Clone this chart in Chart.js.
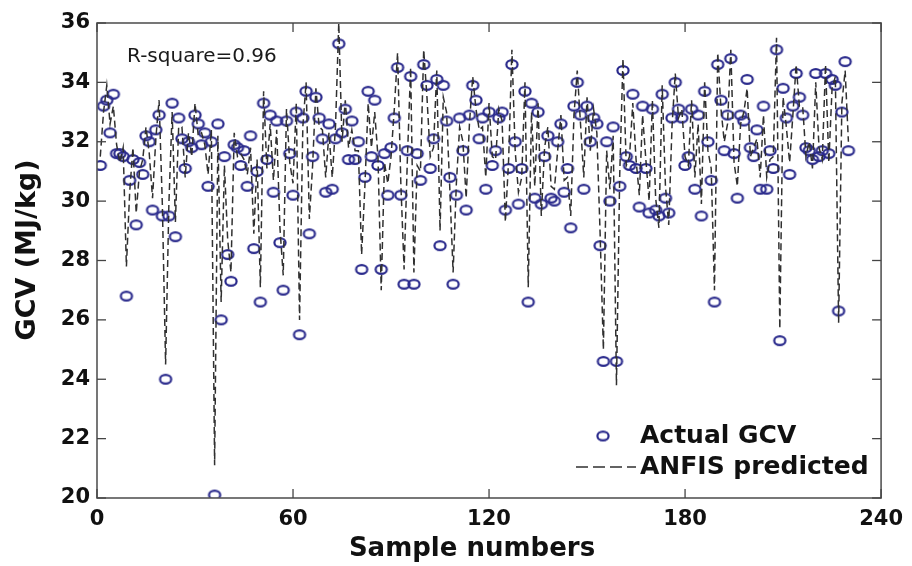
<!DOCTYPE html>
<html><head><meta charset="utf-8">
<script src="https://cdn.jsdelivr.net/npm/chart.js@4.4.1/dist/chart.umd.min.js"></script>
<style>html,body{margin:0;padding:0;background:#fff;}#wrap{width:912px;height:566px;}</style>
</head><body><div id="wrap"><canvas id="c" width="912" height="566"></canvas></div>
<script>
const actualGCV = [
31.2,33.2,33.4,32.3,33.6,31.6,31.6,31.5,26.8,30.7,
31.4,29.2,31.3,30.9,32.2,32.0,29.7,32.4,32.9,29.5,
24.0,29.5,33.3,28.8,32.8,32.1,31.1,32.0,31.8,32.9,
32.6,31.9,32.3,30.5,32.0,20.1,32.6,26.0,31.5,28.2,
27.3,31.9,31.8,31.2,31.7,30.5,32.2,28.4,31.0,26.6,
33.3,31.4,32.9,30.3,32.7,28.6,27.0,32.7,31.6,30.2,
33.0,25.5,32.8,33.7,28.9,31.5,33.5,32.8,32.1,30.3,
32.6,30.4,32.1,35.3,32.3,33.1,31.4,32.7,31.4,32.0,
27.7,30.8,33.7,31.5,33.4,31.2,27.7,31.6,30.2,31.8,
32.8,34.5,30.2,27.2,31.7,34.2,27.2,31.6,30.7,34.6,
33.9,31.1,32.1,34.1,28.5,33.9,32.7,30.8,27.2,30.2,
32.8,31.7,29.7,32.9,33.9,33.4,32.1,32.8,30.4,33.0,
31.2,31.7,32.8,33.0,29.7,31.1,34.6,32.0,29.9,31.1,
33.7,26.6,33.3,30.1,33.0,29.9,31.5,32.2,30.1,30.0,
32.0,32.6,30.3,31.1,29.1,33.2,34.0,32.9,30.4,33.2,
32.0,32.8,32.6,28.5,24.6,32.0,30.0,32.5,24.6,30.5,
34.4,31.5,31.2,33.6,31.1,29.8,33.2,31.1,29.6,33.1,
29.7,29.5,33.6,30.1,29.6,32.8,34.0,33.1,32.8,31.2,
31.5,33.1,30.4,32.9,29.5,33.7,32.0,30.7,26.6,34.6,
33.4,31.7,32.9,34.8,31.6,30.1,32.9,32.7,34.1,31.8,
31.5,32.4,30.4,33.2,30.4,31.7,31.1,35.1,25.3,33.8,
32.8,30.9,33.2,34.3,33.5,32.9,31.8,31.7,31.4,34.3,
31.5,31.7,34.3,31.6,34.1,33.9,26.3,33.0,34.7,31.7
];
const anfisPredicted = [
31.5,33.0,33.9,32.6,33.2,31.9,31.3,31.8,27.8,30.3,
31.8,29.6,31.0,31.4,32.5,31.6,30.1,32.1,33.4,29.9,
24.5,29.9,33.0,29.3,32.5,32.5,30.8,32.3,31.5,33.3,
32.2,32.3,31.9,30.9,32.4,21.1,32.2,26.6,31.2,28.7,
27.6,32.3,31.5,31.6,31.4,30.9,31.8,28.9,31.4,27.1,
33.7,31.1,32.6,30.7,32.4,29.1,27.5,33.1,31.3,30.6,
33.3,26.0,32.5,34.0,29.4,31.2,33.8,32.5,32.4,30.8,
32.3,30.8,32.5,36.0,32.0,33.4,31.8,32.4,31.7,31.7,
28.2,30.5,33.3,31.8,33.0,31.5,27.0,31.3,30.6,31.5,
33.1,35.0,30.6,27.7,31.4,34.5,27.6,31.2,31.0,35.1,
33.5,31.5,31.8,34.4,29.0,33.5,33.0,30.4,27.6,30.6,
32.5,32.0,30.1,32.6,34.2,33.1,32.4,32.5,30.8,33.3,
31.5,31.4,33.1,32.7,29.3,31.4,35.1,31.7,30.3,30.8,
34.0,27.1,33.0,30.5,33.3,29.5,31.8,32.5,30.5,30.4,
31.7,32.9,30.7,30.8,29.5,32.9,34.4,32.6,30.8,33.5,
31.7,33.1,32.3,28.9,25.0,31.7,30.4,32.2,23.8,30.9,
34.8,31.2,31.5,33.3,31.4,30.2,32.9,31.4,30.0,33.4,
30.1,29.1,33.9,30.5,29.2,32.5,34.3,32.8,33.1,31.5,
31.2,33.4,30.8,32.6,29.9,34.0,31.7,31.1,27.0,35.0,
33.1,32.0,32.6,35.1,31.3,30.5,32.6,33.0,33.8,31.5,
31.8,32.1,30.8,32.9,30.8,31.4,31.5,35.5,25.7,33.5,
32.5,31.3,32.9,34.6,33.2,33.2,31.5,32.0,31.1,34.0,
31.8,31.4,34.6,31.3,33.8,34.2,25.9,33.3,34.4,32.0
];
const sampleNumbers = actualGCV.map((_, i) => i + 1);
const xTicks = [0, 60, 120, 180, 240];
const yTicks = [20, 22, 24, 26, 28, 30, 32, 34, 36];
const seriesNames = ['Actual GCV', 'ANFIS predicted'];
const xTitle = 'Sample numbers';
const yTitle = 'GCV (MJ/kg)';
const rSquareText = 'R-square=0.96';

const CIRCLE = '#2a2a8c';
const LINE = '#303030';

// elliptical marker (the reference circles are slightly wider than tall)
const marker = document.createElement('canvas');
marker.width = 16; marker.height = 13;
(() => {
  const m = marker.getContext('2d');
  m.strokeStyle = CIRCLE; m.lineWidth = 2.2;
  m.beginPath(); m.ellipse(8, 6.5, 5.6, 4.4, 0, 0, Math.PI * 2); m.stroke();
})();

const overlay = {
  id: 'overlay',
  beforeDraw(chart) {
    const c = chart.ctx;
    c.save(); c.fillStyle = '#fff'; c.fillRect(0, 0, chart.width, chart.height); c.restore();
  },
  afterDraw(chart) {
    const c = chart.ctx, a = chart.chartArea, x = chart.scales.x, y = chart.scales.y;
    c.save();
    const seg = (x1, y1, x2, y2) => { c.beginPath(); c.moveTo(x1, y1); c.lineTo(x2, y2); c.stroke(); };
    c.strokeStyle = '#555'; c.lineWidth = 1.6;
    c.strokeRect(a.left, a.top, a.right - a.left, a.bottom - a.top);
    c.lineWidth = 1.3; c.strokeStyle = '#444';
    xTicks.forEach(v => { const p = x.getPixelForValue(v); seg(p, a.bottom, p, a.bottom - 9); seg(p, a.top, p, a.top + 9); });
    yTicks.forEach(v => { const p = y.getPixelForValue(v); seg(a.left, p, a.left + 9, p); seg(a.right, p, a.right - 9, p); });
    // R-square annotation
    c.fillStyle = '#1a1a1a';
    c.font = '20px "DejaVu Sans", sans-serif';
    c.textBaseline = 'middle'; c.textAlign = 'left';
    c.fillText(rSquareText, x.getPixelForValue(9.2), y.getPixelForValue(34.85));
    // legend
    const lx = 640;
    const y1 = 436, y2 = 467;
    c.drawImage(marker, 603 - 8, y1 - 6.5);
    c.strokeStyle = LINE; c.lineWidth = 1.5; c.setLineDash([12, 5]);
    seg(576, y2, 636, y2);
    c.setLineDash([]);
    c.fillStyle = '#111';
    c.font = 'bold 25px "DejaVu Sans", sans-serif';
    c.fillText(seriesNames[0], lx, y1);
    c.fillText(seriesNames[1], lx, y2);
    // axis titles
    c.font = 'bold 26px "DejaVu Sans", sans-serif';
    c.textAlign = 'center';
    c.fillText(xTitle, 472, 549);
    c.save();
    c.translate(28, 250); c.rotate(-Math.PI / 2);
    c.font = 'bold 27px "DejaVu Sans", sans-serif';
    c.fillText(yTitle, 0, 0);
    c.restore();
    c.restore();
  }
};

new Chart(document.getElementById('c'), {
  type: 'scatter',
  data: {
    datasets: [
      {
        label: seriesNames[1],
        data: sampleNumbers.map((s, i) => ({ x: s, y: anfisPredicted[i] })),
        showLine: true, borderColor: LINE, borderWidth: 1.5, borderDash: [7, 4],
        pointRadius: 0, tension: 0, order: 1
      },
      {
        label: seriesNames[0],
        data: sampleNumbers.map((s, i) => ({ x: s, y: actualGCV[i] })),
        showLine: false, pointStyle: marker, pointRadius: 6,
        pointBorderColor: CIRCLE, pointBackgroundColor: 'rgba(255,255,255,0)',
        pointHoverRadius: 6, order: 2
      }
    ]
  },
  options: {
    responsive: false, animation: false, devicePixelRatio: 1,
    layout: { padding: { top: 23, right: 25, left: 0, bottom: 0 } },
    plugins: { legend: { display: false }, tooltip: { enabled: false } },
    scales: {
      x: {
        type: 'linear', min: 0, max: 240,
        afterBuildTicks: s => { s.ticks = xTicks.map(v => ({ value: v })); },
        afterFit: s => { s.height = 68; },
        grid: { display: false, drawTicks: false }, border: { display: false },
        ticks: { font: { family: '"DejaVu Sans", sans-serif', size: 21, weight: 'bold' }, color: '#111', padding: 9, maxRotation: 0 }
      },
      y: {
        type: 'linear', min: 20, max: 36,
        afterBuildTicks: s => { s.ticks = yTicks.map(v => ({ value: v })); },
        afterFit: s => { s.width = 97; },
        grid: { display: false, drawTicks: false }, border: { display: false },
        ticks: { font: { family: '"DejaVu Sans", sans-serif', size: 21, weight: 'bold' }, color: '#111', padding: 7 }
      }
    }
  },
  plugins: [overlay]
});
</script>
</body></html>
